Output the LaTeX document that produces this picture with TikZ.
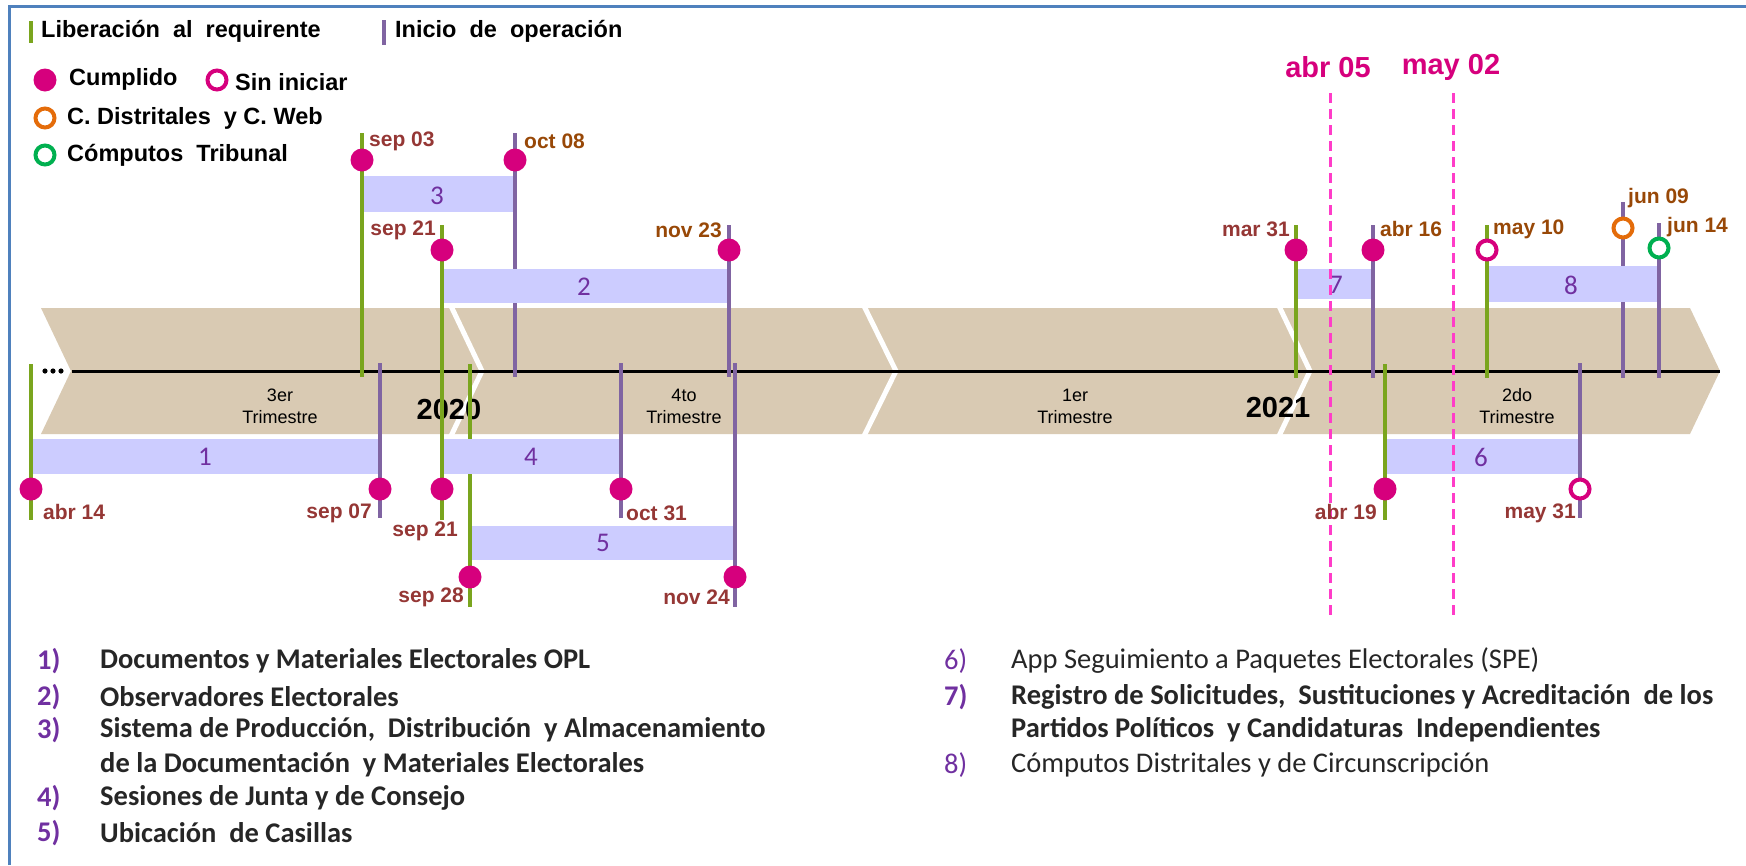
\documentclass[tikz,border=0pt]{standalone}
\usepackage{fontspec}
\setmainfont{Liberation Sans}
\newfontfamily\calibri{Carlito}
\usepackage{tikz}
\usetikzlibrary{positioning}
\definecolor{arena}{HTML}{D9CAB3}
\definecolor{verdeLib}{HTML}{7AA51E}
\definecolor{moradoIni}{HTML}{8064A2}
\definecolor{lavanda}{HTML}{CCCCFF}
\definecolor{moradoNum}{HTML}{7030A0}
\definecolor{magentaPunto}{HTML}{D6007D}
\definecolor{naranjaAnillo}{HTML}{E46C0A}
\definecolor{verdeAnillo}{HTML}{00B050}
\definecolor{rojoFecha}{HTML}{953735}
\definecolor{cafeFecha}{HTML}{984807}
\definecolor{rosaCorte}{HTML}{FF3CC8}
\definecolor{azulMarco}{HTML}{4F81BD}
\definecolor{textoLista}{HTML}{262626}

\begin{document}
\begin{tikzpicture}[x=1pt,y=-1pt,line join=miter,
  lib/.style={draw=verdeLib,line width=4pt},
  ini/.style={draw=moradoIni,line width=4pt},
  barra/.style={fill=lavanda},
  numero/.style={text=moradoNum,font=\calibri\fontsize{27}{27}\selectfont,inner sep=0pt},
  cumplido/.style={circle,fill=magentaPunto,minimum size=23pt,inner sep=0pt},
  anillo/.style={circle,draw=#1,fill=white,line width=4pt,minimum size=19pt,inner sep=0pt},
  fecha/.style={text=#1,font=\bfseries\fontsize{21}{21}\selectfont,inner sep=0pt},
  corte/.style={draw=rosaCorte,line width=3pt,dash pattern=on 10pt off 6pt},
  trim/.style={align=center,font=\fontsize{18}{22}\selectfont,inner sep=0pt},
  anio/.style={font=\bfseries\fontsize{29}{29}\selectfont,inner sep=0pt},
  leyenda/.style={anchor=west,font=\bfseries\fontsize{23.5}{23.5}\selectfont,inner sep=0pt},
  lista/.style={anchor=west,text=textoLista,font=\calibri\fontsize{28.5}{28.5}\selectfont,inner sep=0pt},
  listab/.style={lista,font=\calibri\bfseries\fontsize{28.5}{28.5}\selectfont},
  indice/.style={anchor=west,text=moradoNum,font=\calibri\fontsize{28.5}{28.5}\selectfont,inner sep=0pt},
  indiceb/.style={indice,font=\calibri\bfseries\fontsize{28.5}{28.5}\selectfont}]
\useasboundingbox (0,0) rectangle (1746,865);
\draw [azulMarco, line width=3pt] (9,865) -- (9,6) -- (1746,6);
\fill [arena] (41,308) -- (1690,308) -- (1720,371) -- (1690,434) -- (41,434) -- (71,371) -- cycle;
\draw [white, line width=5pt] (451,306) -- (482,371) -- (451,436);
\draw [white, line width=5pt] (864,306) -- (896,371) -- (864,436);
\draw [white, line width=5pt] (1279,306) -- (1310,371) -- (1279,436);
\draw [line width=3pt] (72,371) -- (1720,371);
\fill (45,371) circle (2.6) (53,371) circle (2.6) (61,371) circle (2.6);
\node [trim] (t3) at (280,406) {3er\\Trimestre};
\node [trim] (t4) at (684,406) {4to\\Trimestre};
\node [trim] (t1) at (1075,406) {1er\\Trimestre};
\node [trim] (t2) at (1517,406) {2do\\Trimestre};
\node [anio] (a2020) at (449,410) {2020};
\node [anio] (a2021) at (1278,408) {2021};
\draw [lib] (31,364) -- (31,520);
\draw [ini] (380,363) -- (380,518);
\draw [lib] (442,225) -- (442,376);
\draw [ini] (729,225) -- (729,377);
\draw [lib] (362,133) -- (362,377);
\draw [ini] (515,133) -- (515,377);
\draw [lib] (442,364) -- (442,520);
\draw [ini] (621,363) -- (621,518);
\draw [lib] (470,364) -- (470,607);
\draw [ini] (735,363) -- (735,607);
\draw [lib] (1385,364) -- (1385,520);
\draw [ini] (1580,363) -- (1580,518);
\draw [lib] (1296,225) -- (1296,378);
\draw [ini] (1373,225) -- (1373,378);
\draw [lib] (1487,225) -- (1487,378);
\draw [ini] (1623,202) -- (1623,378);
\draw [ini] (1659,223) -- (1659,378);
\fill [barra] (33,439) rectangle (378,474);
\fill [barra] (444,269) rectangle (727,303);
\fill [barra] (364,176) rectangle (513,212);
\fill [barra] (444,439) rectangle (619,474);
\fill [barra] (472,526) rectangle (733,560);
\fill [barra] (1387,439) rectangle (1578,474);
\fill [barra] (1298,269) rectangle (1371,299);
\fill [barra] (1489,266) rectangle (1657,302);
\node [numero] (n1) at (205,457) {1};
\node [numero] (n2) at (584,287) {2};
\node [numero] (n3) at (437,196) {3};
\node [numero] (n4) at (531,457) {4};
\node [numero] (n5) at (603,543) {5};
\node [numero] (n6) at (1481,457) {6};
\node [numero] (n7) at (1336,285) {7};
\node [numero] (n8) at (1571,285) {8};
\draw [corte] (1330,93) -- (1330,620);
\draw [corte] (1453,93) -- (1453,620);
\node [anio, text=magentaPunto] (abr05) at (1328,67) {abr 05};
\node [anio, text=magentaPunto] (may02) at (1451,67) {may 02};
\node [cumplido] (p1a) at (31,489) {};
\node [cumplido] (p1b) at (380,489) {};
\node [cumplido] (p2a) at (442,250) {};
\node [cumplido] (p2b) at (729,250) {};
\node [cumplido] (p3a) at (362,160) {};
\node [cumplido] (p3b) at (515,160) {};
\node [cumplido] (p4a) at (442,489) {};
\node [cumplido] (p4b) at (621,489) {};
\node [cumplido] (p5a) at (470,577) {};
\node [cumplido] (p5b) at (735,577) {};
\node [cumplido] (p6a) at (1385,489) {};
\node [anillo=magentaPunto] (p6b) at (1580,489) {};
\node [cumplido] (p7a) at (1296,250) {};
\node [cumplido] (p7b) at (1373,250) {};
\node [anillo=magentaPunto] (p8a) at (1487,250) {};
\node [anillo=naranjaAnillo] (p8b) at (1623,228) {};
\node [anillo=verdeAnillo] (p8c) at (1659,248) {};
\node [fecha=rojoFecha, anchor=west] (abr14) at (43,512) {abr 14};
\node [fecha=rojoFecha, anchor=east] (sep07) at (372,513) {sep 07};
\node [fecha=rojoFecha, anchor=east] (sep21a) at (436,230) {sep 21};
\node [fecha=cafeFecha, anchor=east] (nov23) at (722,230) {nov 23};
\node [fecha=rojoFecha, anchor=west] (sep03) at (369,141) {sep 03};
\node [fecha=cafeFecha, anchor=west] (oct08) at (524,141) {oct 08};
\node [fecha=rojoFecha, anchor=east] (sep21b) at (458,531) {sep 21};
\node [fecha=rojoFecha, anchor=west] (oct31) at (626,513) {oct 31};
\node [fecha=rojoFecha, anchor=east] (sep28) at (464,597) {sep 28};
\node [fecha=rojoFecha, anchor=east] (nov24) at (730,597) {nov 24};
\node [fecha=rojoFecha, anchor=east] (abr19) at (1377,512) {abr 19};
\node [fecha=rojoFecha, anchor=east] (may31) at (1576,513) {may 31};
\node [fecha=rojoFecha, anchor=east] (mar31) at (1290,229) {mar 31};
\node [fecha=cafeFecha, anchor=west] (abr16) at (1380,229) {abr 16};
\node [fecha=cafeFecha, anchor=west] (may10) at (1493,229) {may 10};
\node [fecha=cafeFecha, anchor=west] (jun09) at (1628,198) {jun 09};
\node [fecha=cafeFecha, anchor=west] (jun14) at (1667,227) {jun 14};
\draw [lib] (31,21) -- (31,43);
\node [leyenda] (lLib) at (41,31) {Liberación\ \ al\ \ requirente};
\draw [ini] (384,20) -- (384,45);
\node [leyenda] (lIni) at (395,31) {Inicio\ \ de\ \ operación};
\node [cumplido] (kCum) at (45,80) {};
\node [leyenda] (lCum) at (69,79) {Cumplido};
\node [anillo=magentaPunto] (kSin) at (217,80) {};
\node [leyenda] (lSin) at (235,82) {Sin iniciar};
\node [anillo=naranjaAnillo] (kDis) at (45,118) {};
\node [leyenda] (lDis) at (67,118) {C. Distritales\ \ y C. Web};
\node [anillo=verdeAnillo] (kTri) at (45,155) {};
\node [leyenda] (lTri) at (67,155) {Cómputos\ \ Tribunal};
\node [indiceb] (i1) at (37,661) {1)};
\node [listab] (e1) at (100,661) {Documentos y Materiales Electorales OPL};
\node [indiceb] (i2) at (37,697) {2)};
\node [listab] (e2) at (100,697) {Observadores Electorales};
\node [indiceb] (i3) at (37,730) {3)};
\node [listab] (e3) at (100,730) {Sistema de Producción,\ \ Distribución\ \ y Almacenamiento};
\node [listab] (e3b) at (100,765) {de la Documentación\ \ y Materiales Electorales};
\node [indiceb] (i4) at (37,798) {4)};
\node [listab] (e4) at (100,798) {Sesiones de Junta y de Consejo};
\node [indiceb] (i5) at (37,833) {5)};
\node [listab] (e5) at (100,833) {Ubicación\ \ de Casillas};
\node [indice] (i6) at (944,661) {6)};
\node [lista] (e6) at (1011,661) {App Seguimiento a Paquetes Electorales (SPE)};
\node [indiceb] (i7) at (944,697) {7)};
\node [listab] (e7) at (1011,697) {Registro de Solicitudes,\ \ Sustituciones y Acreditación\ \ de los};
\node [listab] (e7b) at (1011,730) {Partidos Políticos\ \ y Candidaturas\ \ Independientes};
\node [indice] (i8) at (944,765) {8)};
\node [lista] (e8) at (1011,765) {Cómputos Distritales y de Circunscripción};
\end{tikzpicture}
\end{document}
